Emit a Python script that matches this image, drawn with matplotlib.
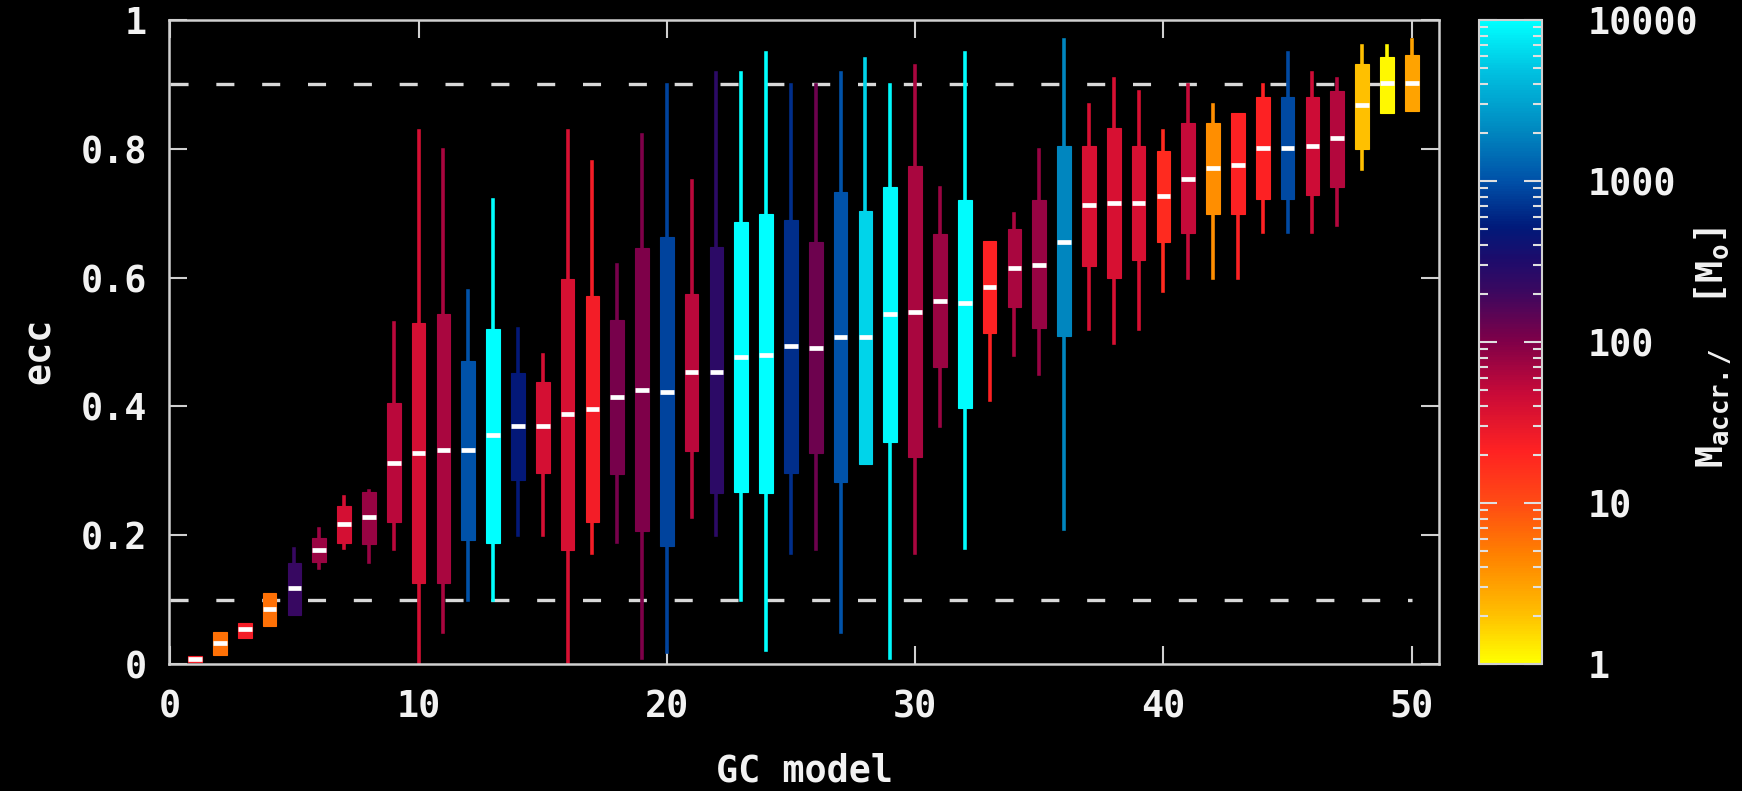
import matplotlib
matplotlib.use("Agg")
import matplotlib.pyplot as plt
import numpy as np
from matplotlib.colors import LinearSegmentedColormap, LogNorm
from matplotlib.cm import ScalarMappable
from matplotlib.ticker import LogLocator, NullFormatter, FixedLocator, FixedFormatter

# GC model number, box statistics of ecc and accreted mass (colour)
models = list(range(1, 51))
wlo = [0.003, 0.014, 0.040, 0.059, 0.076, 0.149, 0.180, 0.159, 0.179, 0.000,
       0.050, 0.100, 0.100, 0.201, 0.200, 0.003, 0.172, 0.189, 0.009, 0.019,
       0.229, 0.201, 0.100, 0.021, 0.172, 0.179, 0.050, 0.310, 0.009, 0.172,
       0.369, 0.180, 0.410, 0.480, 0.450, 0.209, 0.520, 0.499, 0.520, 0.579,
       0.599, 0.599, 0.599, 0.671, 0.671, 0.671, 0.681, 0.769, 0.856, 0.859]
q1 = [0.003, 0.014, 0.040, 0.059, 0.076, 0.158, 0.188, 0.187, 0.220, 0.126,
      0.126, 0.193, 0.188, 0.286, 0.297, 0.177, 0.220, 0.295, 0.207, 0.184,
      0.331, 0.265, 0.267, 0.265, 0.297, 0.327, 0.282, 0.310, 0.344, 0.321,
      0.461, 0.398, 0.514, 0.554, 0.522, 0.509, 0.618, 0.599, 0.627, 0.655,
      0.669, 0.698, 0.698, 0.722, 0.722, 0.728, 0.741, 0.799, 0.856, 0.859]
med = [0.008, 0.033, 0.054, 0.085, 0.118, 0.177, 0.217, 0.229, 0.312, 0.328,
       0.333, 0.333, 0.355, 0.369, 0.369, 0.388, 0.396, 0.414, 0.425, 0.423,
       0.453, 0.453, 0.477, 0.480, 0.494, 0.491, 0.507, 0.507, 0.543, 0.547,
       0.563, 0.561, 0.586, 0.615, 0.620, 0.655, 0.712, 0.716, 0.716, 0.726,
       0.753, 0.770, 0.775, 0.802, 0.802, 0.805, 0.816, 0.868, 0.902, 0.902]
q3 = [0.012, 0.049, 0.064, 0.111, 0.157, 0.195, 0.246, 0.267, 0.405, 0.529,
      0.543, 0.471, 0.520, 0.452, 0.438, 0.598, 0.572, 0.534, 0.646, 0.663,
      0.574, 0.647, 0.686, 0.699, 0.690, 0.655, 0.733, 0.703, 0.740, 0.774,
      0.667, 0.721, 0.657, 0.676, 0.721, 0.805, 0.805, 0.832, 0.805, 0.796,
      0.840, 0.840, 0.856, 0.881, 0.881, 0.881, 0.890, 0.932, 0.942, 0.946]
whi = [0.012, 0.049, 0.064, 0.111, 0.179, 0.209, 0.260, 0.268, 0.529, 0.828,
       0.798, 0.579, 0.721, 0.520, 0.480, 0.828, 0.780, 0.619, 0.821, 0.899,
       0.750, 0.918, 0.918, 0.949, 0.899, 0.899, 0.918, 0.939, 0.899, 0.929,
       0.739, 0.949, 0.657, 0.699, 0.798, 0.969, 0.868, 0.909, 0.888, 0.828,
       0.899, 0.868, 0.856, 0.899, 0.949, 0.918, 0.908, 0.960, 0.960, 0.969]
maccr = [25, 6, 25, 6, 220, 75, 40, 80, 55, 40,
         65, 1000, 10000, 500, 40, 38, 25, 110, 100, 850,
         55, 260, 10000, 10000, 650, 120, 1000, 6000, 9000, 65,
         75, 9500, 22, 65, 80, 2000, 38, 38, 38, 18,
         50, 4, 22, 22, 900, 45, 60, 2, 1.1, 3]

cbar_ticks = [1, 10, 100, 1000, 10000]
ecc_ticks = [0, 0.2, 0.4, 0.6, 0.8, 1]
ecc_labels = ["0", "0.2", "0.4", "0.6", "0.8", "1"]

plt.rcParams['font.family'] = ['DejaVu Sans Mono', 'DejaVu Sans']
plt.rcParams['font.weight'] = 'bold'
plt.rcParams['font.size'] = 26
plt.rcParams['mathtext.fontset'] = 'custom'
plt.rcParams['mathtext.rm'] = 'DejaVu Sans Mono:bold'
plt.rcParams['mathtext.it'] = 'DejaVu Sans Mono:bold'
plt.rcParams['mathtext.bf'] = 'DejaVu Sans Mono:bold'
plt.rcParams['lines.scale_dashes'] = False

txt = '#f2f2f2'
frame = '#d0d0d0'

palette = LinearSegmentedColormap.from_list("accr", [
    (0.0, '#ffff00'), (0.075, '#ffc000'), (0.17, '#ff8000'), (0.25, '#ff4a14'),
    (0.33, '#ff2222'), (0.42, '#c80a38'), (0.50, '#800048'), (0.58, '#3a0860'),
    (0.63, '#1c0c6c'), (0.68, '#001a7a'), (0.75, '#0050a8'), (0.83, '#0088c0'),
    (0.92, '#00c0e0'), (1.0, '#00ffff')])
norm = LogNorm(vmin=1, vmax=10000)

fig = plt.figure(figsize=(17.42, 7.91), dpi=100, facecolor='black')
ax = fig.add_axes([169/1742, 1-664/791, 1270/1742, 644/791], facecolor='black')

for y in [0.1, 0.9]:
    ax.plot([0, 50], [y, y], color='#d8d8d8', lw=2.4, dashes=(13, 20), zorder=1)

stats = []
for i in range(len(models)):
    stats.append(dict(med=med[i], q1=q1[i], q3=q3[i], whislo=wlo[i], whishi=whi[i], fliers=[]))

res = ax.bxp(stats, positions=models, widths=0.55, patch_artist=True,
             showcaps=False, showfliers=False, manage_ticks=False,
             medianprops=dict(color='white', linewidth=3.4, solid_capstyle='butt'),
             whiskerprops=dict(linewidth=2.6), boxprops=dict(linewidth=0.8))
for i in range(len(models)):
    c = palette(norm(maccr[i]))
    res['boxes'][i].set_facecolor(c)
    res['boxes'][i].set_edgecolor(c)
    res['boxes'][i].set_zorder(3)
    res['whiskers'][2*i].set_color(c)
    res['whiskers'][2*i+1].set_color(c)
    res['whiskers'][2*i].set_zorder(2)
    res['whiskers'][2*i+1].set_zorder(2)
    res['medians'][i].set_zorder(4)

ax.set_xlim(-0.05, 51.1)
ax.set_ylim(0, 1)
ax.set_xticks([0, 10, 20, 30, 40, 50])
ax.yaxis.set_major_locator(FixedLocator(ecc_ticks))
ax.yaxis.set_major_formatter(FixedFormatter(ecc_labels))
ax.tick_params(axis='both', direction='in', top=True, right=True, length=13,
               width=1.5, color=frame, labelcolor=txt, labelsize=26.5)
ax.tick_params(axis='x', pad=18)
ax.tick_params(axis='y', pad=16)
for s in ax.spines.values():
    s.set_color(frame)
    s.set_linewidth(1.8)

fig.text(50/1742, 1-351/791, 'ecc', rotation=90, rotation_mode='anchor',
         ha='center', va='baseline', color=txt, fontsize=26.5)
fig.text(804/1742, 9/791, 'GC model', ha='center', va='baseline', color=txt, fontsize=26.5)

cax = fig.add_axes([1479/1742, 1-664/791, 63/1742, 644/791])
sm = ScalarMappable(norm=norm, cmap=palette)
cb = fig.colorbar(sm, cax=cax)
cb.outline.set_edgecolor(frame)
cb.outline.set_linewidth(1.5)
cax.yaxis.set_major_locator(FixedLocator(cbar_ticks))
cax.yaxis.set_major_formatter(FixedFormatter([str(t) for t in cbar_ticks]))
cax.yaxis.set_minor_locator(LogLocator(base=10, subs=np.arange(2, 10)))
cax.yaxis.set_minor_formatter(NullFormatter())
cax.tick_params(which='both', direction='in', left=True, right=True, color='#e0e0e0',
                labelcolor=txt, labelsize=26.5, pad=33)
cax.tick_params(which='major', length=13, width=1.5)
cax.tick_params(which='minor', length=6.5, width=1.5)

fig.text(1723/1742, 1-347/791, r'M$_{accr./}$  [M$_{o}$]', rotation=90,
         rotation_mode='anchor', ha='center', va='baseline', color=txt, fontsize=26.5)

fig.savefig('out.png', dpi=100, facecolor='black')
